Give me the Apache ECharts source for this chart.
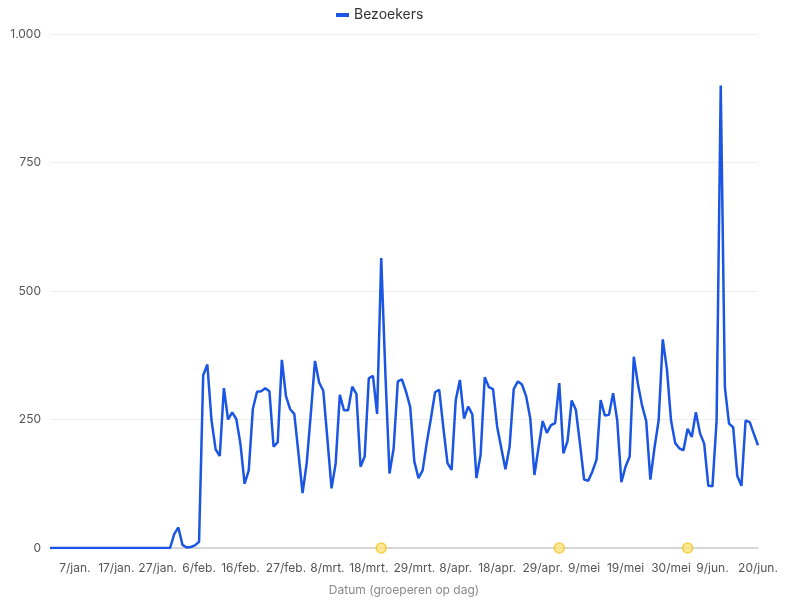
<!DOCTYPE html>
<html>
<head>
<meta charset="utf-8">
<script src="https://cdn.jsdelivr.net/npm/echarts@6/dist/echarts.min.js"></script>
<style>
  html, body { margin: 0; padding: 0; background: #ffffff; }
  #chart { width: 787px; height: 601px; }
</style>
</head>
<body>
<div id="chart"></div>
<script>
// Daily visitors, one value per day starting 1 January 2024
const startDate = '2024-01-01';
const visitors = [
  0, 0, 0, 0, 0, 0, 0, 0, 0, 0,
  0, 0, 0, 0, 0, 0, 0, 0, 0, 0,
  0, 0, 0, 0, 0, 0, 0, 0, 0, 0,
  27, 40, 6, 1, 2, 5, 12, 336, 357, 249,
  192, 179, 311, 250, 264, 251, 202, 125, 151, 271,
  304, 305, 311, 305, 197, 206, 366, 295, 270, 261,
  185, 107, 165, 262, 364, 322, 306, 212, 116, 165,
  298, 268, 268, 314, 300, 158, 178, 330, 335, 261,
  564, 340, 145, 194, 324, 328, 304, 274, 168, 136,
  151, 205, 252, 303, 308, 234, 165, 152, 288, 327,
  252, 275, 260, 136, 181, 332, 313, 309, 236, 194,
  153, 197, 309, 324, 318, 295, 252, 142, 196, 247,
  224, 239, 243, 321, 184, 208, 287, 269, 203, 133,
  131, 149, 172, 288, 258, 259, 301, 248, 128, 158,
  178, 372, 319, 277, 247, 133, 195, 248, 406, 348,
  248, 204, 194, 190, 232, 216, 264, 223, 203, 121,
  120, 248, 900, 313, 242, 235, 140, 121, 248, 245,
  222, 200
];

// Dates shown as labels along the x axis
const tickLabels = [
  '7/jan.', '17/jan.', '27/jan.', '6/feb.', '16/feb.', '27/feb.',
  '8/mrt.', '18/mrt.', '29/mrt.', '8/apr.', '18/apr.', '29/apr.',
  '9/mei', '19/mei', '30/mei', '9/jun.', '20/jun.'
];

// Days marked with an annotation dot on the baseline
const annotationDays = ['21/mrt.', '3/mei', '3/jun.'];

const yTicks = [0, 250, 500, 750, 1000];

const monthNames = ['jan.', 'feb.', 'mrt.', 'apr.', 'mei', 'jun.', 'jul.', 'aug.', 'sep.', 'okt.', 'nov.', 'dec.'];

// Build the day categories ("d/maand") for every visitor value
const categories = visitors.map((_, i) => {
  const d = new Date(startDate + 'T00:00:00Z');
  d.setUTCDate(d.getUTCDate() + i);
  return d.getUTCDate() + '/' + monthNames[d.getUTCMonth()];
});

function formatNumber(v) {
  return String(v).replace(/\B(?=(\d{3})+(?!\d))/g, '.');
}

const chart = echarts.init(document.getElementById('chart'), null, { renderer: 'canvas' });

chart.setOption({
  animation: false,
  textStyle: { fontFamily: 'Inter, "Noto Sans", sans-serif' },
  legend: {
    data: ['Bezoekers'],
    top: 3,
    left: 331,
    icon: 'rect',
    itemWidth: 13,
    itemHeight: 4,
    itemGap: 10,
    textStyle: { fontSize: 14, color: '#333333', fontFamily: 'Inter' }
  },
  grid: {
    left: 50,
    right: 29,
    top: 34,
    bottom: 49,
    containLabel: false
  },
  xAxis: {
    type: 'category',
    data: categories,
    boundaryGap: false,
    name: 'Datum (groeperen op dag)',
    nameLocation: 'middle',
    nameGap: 36,
    nameTextStyle: { color: '#8a8a8a', fontSize: 12, fontFamily: 'Inter' },
    axisLine: { show: true, lineStyle: { color: '#cccccc', width: 1.5 } },
    axisTick: { show: false },
    axisLabel: {
      interval: (index, value) => tickLabels.includes(value),
      color: '#555555',
      fontSize: 12,
      margin: 14,
      fontFamily: 'Inter'
    },
    splitLine: { show: false }
  },
  yAxis: {
    type: 'value',
    min: yTicks[0],
    max: yTicks[yTicks.length - 1],
    interval: yTicks[1] - yTicks[0],
    axisLine: { show: false },
    axisTick: { show: false },
    axisLabel: {
      color: '#555555',
      fontSize: 12,
      margin: 9,
      fontFamily: 'Inter',
      formatter: v => formatNumber(v)
    },
    splitLine: { show: true, lineStyle: { color: '#eeeeee', width: 1 } }
  },
  series: [
    {
      name: 'Bezoekers',
      type: 'line',
      data: visitors,
      showSymbol: false,
      symbol: 'none',
      color: '#1a55e3',
      lineStyle: { color: '#1a55e3', width: 2.5 },
      z: 3
    },
    {
      name: 'Annotaties',
      type: 'scatter',
      data: annotationDays.map(d => [d, 0]),
      symbol: 'circle',
      symbolSize: 10,
      itemStyle: { color: '#fde47a', borderColor: '#f3c72a', borderWidth: 1.5 },
      z: 5,
      clip: false
    }
  ]
});
</script>
</body>
</html>
